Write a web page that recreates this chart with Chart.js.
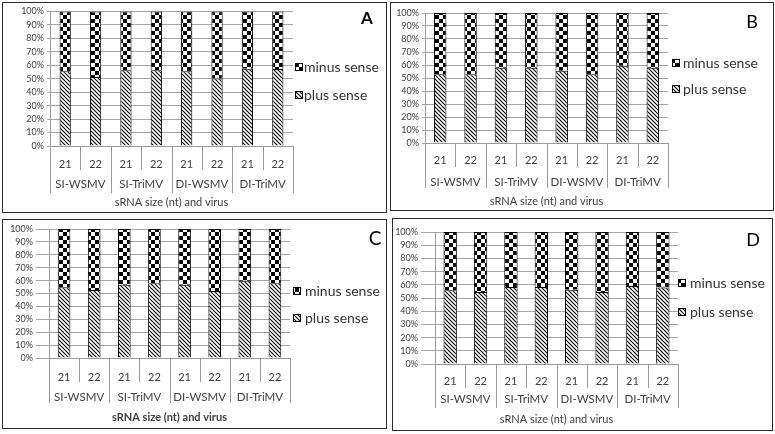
<!DOCTYPE html>
<html><head><meta charset="utf-8">
<script src="https://cdn.jsdelivr.net/npm/chart.js@4/dist/chart.umd.min.js"></script>
<style>
html,body{margin:0;padding:0;background:#fff;width:775px;height:434px;overflow:hidden;}
.panel{position:absolute;border:1px solid #2a2a2a;box-sizing:border-box;background:#fff;}
.panel canvas{position:absolute;left:0;top:0;}
</style></head><body>
<div class="panel" style="left:2px;top:2px;width:385px;height:211px"><canvas id="cA" width="383" height="209"></canvas></div>
<div class="panel" style="left:390px;top:2px;width:384px;height:209px"><canvas id="cB" width="382" height="207"></canvas></div>
<div class="panel" style="left:2px;top:219px;width:385px;height:210px"><canvas id="cC" width="383" height="208"></canvas></div>
<div class="panel" style="left:392px;top:218px;width:381px;height:213px"><canvas id="cD" width="379" height="211"></canvas></div>
<script>
// ---- data ----
const sizes = ['21','22','21','22','21','22','21','22'];
const groups = ['SI-WSMV','SI-TriMV','DI-WSMV','DI-TriMV'];
const seriesNames = ['plus sense','minus sense'];
const axisTitle = 'sRNA size (nt) and virus';
const yTicks = [0,10,20,30,40,50,60,70,80,90,100];

const plusA  = [55.5, 51.3, 56.2, 56.2, 55.5, 50.1, 57.4, 57.2];
const minusA = [44.5, 48.7, 43.8, 43.8, 44.5, 49.9, 42.6, 42.8];
const plusB  = [52.8, 52.8, 57.9, 57.9, 55.6, 52.8, 59.5, 57.9];
const minusB = [47.2, 47.2, 42.1, 42.1, 44.4, 47.2, 40.5, 42.1];
const plusC  = [54.9, 52.8, 56.7, 58.0, 56.7, 52.0, 59.8, 58.0];
const minusC = [45.1, 47.2, 43.3, 42.0, 43.3, 48.0, 40.2, 42.0];
const plusD  = [55.8, 54.5, 58.3, 58.3, 56.3, 54.5, 59.0, 58.0];
const minusD = [44.2, 45.5, 41.7, 41.7, 43.7, 45.5, 41.0, 42.0];

const FONT = 'Lato, "Open Sans", "DejaVu Sans", sans-serif';

function makeHatch(){
  const c=document.createElement('canvas'); c.width=4; c.height=4;
  const g=c.getContext('2d'); g.fillStyle='#fff'; g.fillRect(0,0,4,4);
  g.strokeStyle='#000'; g.lineWidth=1.1; g.beginPath();
  for(let k=-1;k<=1;k++){ g.moveTo(k*4-1,-1); g.lineTo(k*4+5,5); }
  g.stroke();
  return g.createPattern(c,'repeat');
}
function makeChecker(){
  const c=document.createElement('canvas'); c.width=8; c.height=8;
  const g=c.getContext('2d'); g.fillStyle='#fff'; g.fillRect(0,0,8,8);
  g.fillStyle='#000'; g.fillRect(0,0,4,4); g.fillRect(4,4,4,4);
  return g.createPattern(c,'repeat');
}

const decor = {
  id:'decor',
  afterDraw(chart,args,o){
    const ctx=chart.ctx, x=chart.scales.x, a=chart.chartArea;
    const px=i=>x.getPixelForValue(i);
    const n=chart.data.labels.length;
    ctx.save();
    // category separators
    ctx.strokeStyle='#9a9a9a'; ctx.lineWidth=1; ctx.beginPath();
    const bx=[a.left]; for(let i=0;i<n-1;i++) bx.push((px(i)+px(i+1))/2); bx.push(a.right);
    bx.forEach((v,i)=>{ const X=Math.round(v)+0.5; ctx.moveTo(X,a.bottom); ctx.lineTo(X,(i%2===0)?o.longY:o.shortY); });
    ctx.stroke();
    // group labels
    ctx.fillStyle='#404040'; ctx.textAlign='center'; ctx.textBaseline='middle';
    ctx.font='11.5px '+FONT;
    groups.forEach((g,i)=>ctx.fillText(g,(px(2*i)+px(2*i+1))/2,o.groupY));
    // axis title
    ctx.font=(o.titleBold?'bold ':'')+'11px '+FONT;
    ctx.fillText(axisTitle,(a.left+a.right)/2,o.titleY);
    // legend (reverse order: minus on top)
    const ds=chart.data.datasets;
    const items=[{d:ds[1],y:o.legY[0]},{d:ds[0],y:o.legY[1]}];
    ctx.textAlign='left'; ctx.font='14px '+FONT; ctx.fillStyle='#333';
    items.forEach(it=>{
      ctx.fillStyle=it.d.backgroundColor; ctx.fillRect(o.legX,it.y-4,8,8);
      ctx.strokeStyle='#000'; ctx.lineWidth=1; ctx.strokeRect(o.legX+0.5,it.y-3.5,7,7);
      ctx.fillStyle='#333'; ctx.fillText(it.d.label,o.legTextX,it.y);
    });
    // panel letter
    ctx.fillStyle='#000'; ctx.textAlign='center';
    ctx.font=(o.letterBold?'bold ':'')+o.letterSize+'px '+FONT;
    ctx.fillText(o.letter,o.letterX,o.letterY);
    ctx.restore();
  }
};

function build(id,plus,minus,p){
  const cv=document.getElementById(id);
  const W=cv.width,H=cv.height;
  new Chart(cv,{
    type:'bar',
    data:{labels:sizes,datasets:[
      {label:seriesNames[0],data:plus,backgroundColor:makeHatch(),borderColor:'#000',borderWidth:1,
       categoryPercentage:1,barPercentage:p.bar},
      {label:seriesNames[1],data:minus,backgroundColor:makeChecker(),borderColor:'#000',borderWidth:1,
       categoryPercentage:1,barPercentage:p.bar}
    ]},
    options:{
      responsive:false,animation:false,devicePixelRatio:1,
      layout:{padding:{left:0,top:p.top,right:W-p.right,bottom:0}},
      plugins:{legend:{display:false},tooltip:{enabled:false},
        decor:{longY:p.longY,shortY:p.shortY,groupY:p.groupY,titleY:p.titleY,titleBold:p.titleBold,
               legX:p.legX,legTextX:p.legTextX,legY:p.legY,letter:p.letter,letterX:p.letterX,letterY:p.letterY,
               letterSize:p.letterSize,letterBold:p.letterBold}},
      scales:{
        x:{stacked:true,offset:true,grid:{display:false},
           border:{display:true,color:'#9a9a9a',width:1},
           ticks:{color:'#404040',font:{family:FONT,size:11},padding:p.xpad,autoSkip:false,maxRotation:0},
           afterFit:s=>{s.height=H-p.bottom;}},
        y:{stacked:true,min:0,max:100,
           afterBuildTicks:s=>{s.ticks=yTicks.map(v=>({value:v}));},
           grid:{color:'#a6a6a6',lineWidth:1,drawTicks:true,tickLength:p.tick,tickColor:'#a6a6a6'},
           border:{display:true,color:'#9a9a9a',width:1},
           ticks:{color:'#404040',font:{family:FONT,size:9},padding:3,autoSkip:false,callback:v=>v+'%'},
           afterFit:s=>{s.width=p.left;}}
      }
    },
    plugins:[decor]
  });
}

build('cA',plusA,minusA,{left:47,right:290,top:6,bottom:143,bar:0.37,tick:3,xpad:4,
  shortY:167,longY:190,groupY:181,titleY:199,titleBold:false,legX:292,legTextX:301,legY:[64,92],
  letter:'A',letterX:364,letterY:16,letterSize:17,letterBold:true});
build('cB',plusB,minusB,{left:34,right:277,top:10,bottom:140,bar:0.41,tick:3,xpad:2.5,
  shortY:164,longY:185,groupY:179,titleY:198,titleBold:false,legX:281,legTextX:292,legY:[60,86],
  letter:'B',letterX:361,letterY:19,letterSize:18,letterBold:false});
build('cC',plusC,minusC,{left:46,right:287,top:9,bottom:138,bar:0.42,tick:13,xpad:4.5,
  shortY:162,longY:183,groupY:177,titleY:197,titleBold:true,legX:290,legTextX:302,legY:[71,98],
  letter:'C',letterX:372,letterY:19,letterSize:19,letterBold:false});
build('cD',plusD,minusD,{left:42,right:285,top:13,bottom:145,bar:0.44,tick:14,xpad:2.5,
  shortY:169,longY:189,groupY:180,titleY:200,titleBold:false,legX:285,legTextX:297,legY:[64,93],
  letter:'D',letterX:360,letterY:21,letterSize:18,letterBold:false});
</script>
</body></html>
